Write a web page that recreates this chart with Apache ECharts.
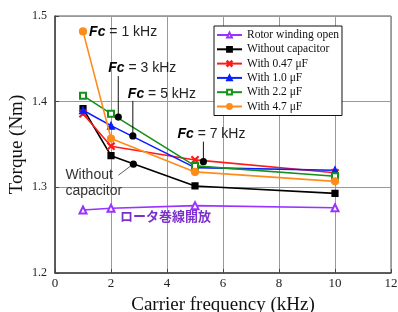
<!DOCTYPE html>
<html>
<head>
<meta charset="utf-8">
<script src="https://cdn.jsdelivr.net/npm/echarts@6/dist/echarts.min.js"></script>
<style>
  html, body { margin: 0; padding: 0; background: #fff; }
  #main { width: 398px; height: 312px; }
</style>
</head>
<body>
<div id="main"></div>
<script>
// carrier frequency (kHz)
var freqs = [1, 2, 5, 10];
var xTicks = [0, 2, 4, 6, 8, 10, 12];
var yTicks = [1.2, 1.3, 1.4, 1.5];

// torque (Nm)
var rotorOpen = [1.2735, 1.2755, 1.2786, 1.2762];
var noCap = [1.392, 1.337, 1.3016, 1.293];
var cap047 = [1.386, 1.348, 1.332, 1.317];
var cap10 = [1.390, 1.372, 1.323, 1.320];
var cap22 = [1.407, 1.386, 1.325, 1.313];
var cap47 = [1.482, 1.357, 1.318, 1.307];

// callout dots (x in kHz, y in Nm) and their texts
var annoX = [2.26, 2.78, 5.30, 2.80];
var annoY = [1.382, 1.360, 1.330, 1.327];
var annoText = ['3 kHz', '5 kHz', '7 kHz', 'Without\ncapacitor'];

var seriesNames = ['Rotor winding open', 'Without capacitor', 'With 0.47 \u03bcF', 'With 1.0 \u03bcF', 'With 2.2 \u03bcF', 'With 4.7 \u03bcF'];

var xPath = 'path://M0,1L1,0L5,4L9,0L10,1L6,5L10,9L9,10L5,6L1,10L0,9L4,5Z';

// pixel offsets of callout text relative to the dot
var annoLayout = [
  { tx: -10, ty: -49, lineTop: -41 },
  { tx: -5, ty: -42, lineTop: -35 },
  { tx: -26, ty: -27, lineTop: -20 },
  { tx: -68, ty: 19, lx1: -15, ly1: 11, lx2: -3, ly2: 2 }
];

function mk(name, data, color, symbol, extra) {
  var s = {
    name: name,
    type: 'line',
    data: freqs.map(function (f, i) { return [f, data[i]]; }),
    symbol: symbol,
    symbolSize: 7,
    lineStyle: { color: color, width: 1.6 },
    itemStyle: { color: color, borderColor: color, borderWidth: 1.2 },
    emphasis: { disabled: true },
    z: 3
  };
  if (extra) Object.assign(s, extra);
  return s;
}

var fcRich = {
  b: { fontFamily: 'Liberation Sans', fontStyle: 'italic', fontWeight: 'bold', fontSize: 14, fill: '#000' },
  n: { fontFamily: 'Liberation Sans', fontSize: 14, fill: '#222' }
};

var chart = echarts.init(document.getElementById('main'));
chart.setOption({
  animation: false,
  backgroundColor: '#fff',
  grid: { left: 55, right: 7, top: 16, bottom: 39, outerBoundsMode: 'none', containLabel: false,
    show: true, borderColor: '#555', borderWidth: 1 },
  xAxis: {
    type: 'value', min: 0, max: 12, interval: 2,
    name: 'Carrier frequency (kHz)', nameLocation: 'middle', nameGap: 23, nameMoveOverlap: false,
    nameTextStyle: { fontFamily: 'Liberation Serif', fontSize: 19, color: '#111' },
    axisLine: { show: true, lineStyle: { color: '#444', width: 1.5 } },
    axisTick: { show: true, inside: true, length: 4, lineStyle: { color: '#444' } },
    axisLabel: { fontFamily: 'Liberation Serif', fontSize: 13, color: '#222', margin: 4,
      formatter: function (v) { return xTicks.indexOf(v) >= 0 ? String(v) : ''; } },
    splitLine: { show: true, lineStyle: { color: '#999', width: 1 } }
  },
  yAxis: {
    type: 'value', min: 1.2, max: 1.5, interval: 0.1,
    name: 'Torque (Nm)', nameLocation: 'middle', nameGap: 28, nameMoveOverlap: false,
    nameTextStyle: { fontFamily: 'Liberation Serif', fontSize: 19, color: '#111' },
    axisLine: { show: true, lineStyle: { color: '#444', width: 1.5 } },
    axisTick: { show: true, inside: true, length: 4, lineStyle: { color: '#444' } },
    axisLabel: { fontFamily: 'Liberation Serif', fontSize: 12, color: '#222', margin: 8,
      formatter: function (v) {
        var t = yTicks.filter(function (k) { return Math.abs(k - v) < 1e-6; });
        return t.length ? t[0].toFixed(1) : '';
      } },
    splitLine: { show: true, lineStyle: { color: '#999', width: 1 } }
  },
  legend: {
    orient: 'vertical', left: 214, top: 26,
    padding: [2, 3, 2, 2],
    itemWidth: 25, itemHeight: 6, itemGap: 0.3,
    backgroundColor: '#fff', borderColor: '#111', borderWidth: 1,
    textStyle: { fontFamily: 'Liberation Serif', fontSize: 11.5, color: '#111', lineHeight: 14 },
    data: seriesNames
  },
  series: [
    mk(seriesNames[0], rotorOpen, '#9933ff', 'emptyTriangle'),
    mk(seriesNames[1], noCap, '#000000', 'rect', { symbolSize: 6 }),
    mk(seriesNames[2], cap047, '#ff1a1a', xPath, { symbolSize: 7 }),
    mk(seriesNames[3], cap10, '#0a1eff', 'triangle'),
    mk(seriesNames[4], cap22, '#15901a', 'emptyRect', { symbolSize: 6 }),
    mk(seriesNames[5], cap47, '#ff8c1a', 'circle', {
      z: 4,
      label: {
        show: true,
        formatter: function (p) { return p.dataIndex === 0 ? '{b|Fc}{n| = 1 kHz}' : ''; },
        position: 'right', distance: 2, offset: [0, 1],
        rich: {
          b: { fontFamily: 'Liberation Sans', fontStyle: 'italic', fontWeight: 'bold', fontSize: 14, color: '#000' },
          n: { fontFamily: 'Liberation Sans', fontSize: 14, color: '#222' }
        }
      }
    }),
    {
      type: 'custom',
      silent: true,
      z: 6,
      data: annoX.map(function (x, i) { return [x, annoY[i]]; }),
      renderItem: function (params, api) {
        var i = params.dataIndex;
        var p = api.coord([api.value(0), api.value(1)]);
        var o = annoLayout[i];
        var children = [];
        if (i < 3) {
          children.push({ type: 'line', shape: { x1: p[0], y1: p[1], x2: p[0], y2: p[1] + o.lineTop },
            style: { stroke: '#111', lineWidth: 1 } });
          children.push({ type: 'text', style: { x: p[0] + o.tx, y: p[1] + o.ty, text: '{b|Fc}{n| = ' + annoText[i] + '}',
            rich: fcRich, verticalAlign: 'middle', align: 'left' } });
        } else {
          children.push({ type: 'line', shape: { x1: p[0] + o.lx1, y1: p[1] + o.ly1, x2: p[0] + o.lx2, y2: p[1] + o.ly2 },
            style: { stroke: '#333', lineWidth: 0.8 } });
          children.push({ type: 'text', style: { x: p[0] + o.tx, y: p[1] + o.ty, text: annoText[i],
            fontFamily: 'Liberation Sans', fontSize: 14, fill: '#333', lineHeight: 16, verticalAlign: 'middle', align: 'left' } });
        }
        children.push({ type: 'circle', shape: { cx: p[0], cy: p[1], r: 3.6 }, style: { fill: '#000' } });
        return { type: 'group', children: children };
      }
    }
  ],
  graphic: [
    { type: 'text', left: 120, top: 210, z: 10,
      style: { text: '\u30ed\u30fc\u30bf\u5dfb\u7dda\u958b\u653e', fontFamily: 'Noto Sans CJK JP', fontWeight: 'bold', fontSize: 13, fill: '#7d2fcc' } }
  ]
});
</script>
</body>
</html>
